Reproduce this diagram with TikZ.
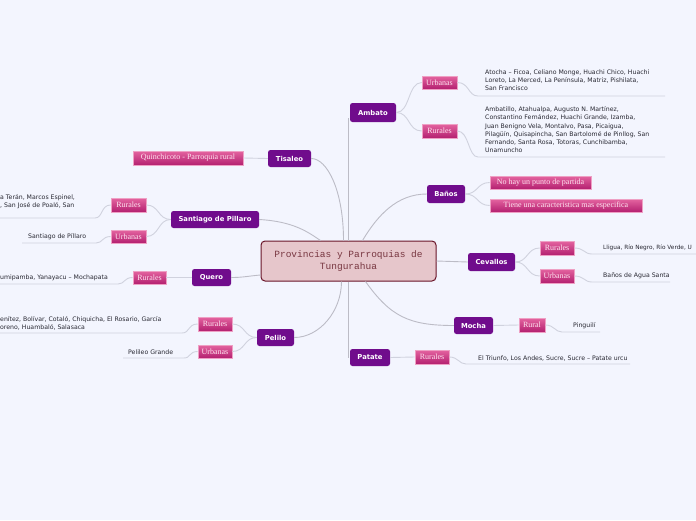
\documentclass[tikz,border=0pt]{standalone}
\usepackage{fontspec}
\setmainfont{DejaVu Sans}
\newfontfamily\monof{Liberation Mono}
\newfontfamily\subf{Liberation Serif}
\definecolor{bgc}{RGB}{243,245,254}
\definecolor{mainc}{RGB}{112,12,140}
\definecolor{centf}{RGB}{230,198,203}
\definecolor{centd}{RGB}{105,20,40}
\definecolor{centt}{RGB}{120,55,65}
\definecolor{subtop}{RGB}{228,100,160}
\definecolor{subbot}{RGB}{180,32,112}
\definecolor{subbd}{RGB}{238,160,196}
\definecolor{subt}{RGB}{255,228,240}
\definecolor{linec}{RGB}{188,188,198}
\definecolor{ulc}{RGB}{208,210,222}
\definecolor{leaft}{RGB}{40,40,50}
\tikzset{
  mainnode/.style={fill=mainc, rounded corners=2.5pt, text=white,
    font=\fontsize{6.8}{8}\selectfont\bfseries, inner sep=0pt},
  centnode/.style={fill=centf, draw=centd, line width=1pt, rounded corners=4pt,
    text=centt, font=\monof\fontsize{9.5}{11.5}\selectfont, align=center, inner sep=0pt,
    minimum width=175pt, minimum height=40pt},
  subnode/.style={top color=subtop, bottom color=subbot, draw=subbd, line width=0.6pt,
    text=subt, font=\subf\fontsize{8}{8}\selectfont, inner sep=0pt},
  leaf/.style={font=\fontsize{6.2}{8.2}\selectfont, text=leaft, align=left, inner sep=0pt},
  conn/.style={draw=linec, line width=0.9pt},
  subconn/.style={draw=ulc, line width=0.9pt}
}
\begin{document}
\begin{tikzpicture}[x=1pt,y=-1pt]
\fill[bgc] (0,0) rectangle (696,520);
\useasboundingbox (0,0) rectangle (696,520);
\clip (0,0) rectangle (696,520);

% center
\node[centnode] (c) at (348.5,261) {Provincias y Parroquias de\\Tungurahua};

% main nodes
\node[mainnode, minimum width=46pt, minimum height=19pt] (amb) at (373,112.5) {Ambato};
\node[mainnode, minimum width=43pt, minimum height=17pt] (tis) at (289.5,158.5) {Tisaleo};
\node[mainnode, minimum width=88pt, minimum height=17pt] (san) at (215,219.5) {Santiago de Pillaro};
\node[mainnode, minimum width=39pt, minimum height=17pt] (que) at (211.5,277.5) {Quero};
\node[mainnode, minimum width=37pt, minimum height=17pt] (pel) at (275.5,337.5) {Pelilo};
\node[mainnode, minimum width=40pt, minimum height=17pt] (pat) at (370,357.5) {Patate};
\node[mainnode, minimum width=39pt, minimum height=17pt] (moc) at (473.5,325.5) {Mocha};
\node[mainnode, minimum width=47pt, minimum height=18pt] (cev) at (491.5,262) {Cevallos};
\node[mainnode, minimum width=38pt, minimum height=18pt] (ban) at (446,194) {Baños};

% main connectors
\draw[conn] (c.north) -- ([yshift=4pt]c.north |- amb.south);
\draw[conn] (c.south) -- (c.south |- pat.west);
\draw[conn] (tis.east) .. controls +(16,0) and +(0,-50) .. ([xshift=-5pt]c.north);
\draw[conn] (san.east) .. controls +(35,2) and +(-12,-8) .. ([xshift=-28pt]c.north);
\draw[conn] (que.east) .. controls +(12,0) and +(-12,1) .. ([yshift=-14pt]c.west);
\draw[conn] (pel.east) .. controls +(25,0) and +(0,30) .. ([xshift=-7pt]c.south);
\draw[conn] ([xshift=14pt]c.north) .. controls +(15,-25) and +(-30,0) .. (ban.west);
\draw[conn] (c.east) -- (cev.west);
\draw[conn] ([xshift=17pt]c.south) .. controls +(25,35) and +(-45,0) .. (moc.west);

% sub nodes
\node[subnode, minimum width=35pt, minimum height=13pt] (amU) at (439.5,82.5) {Urbanas};
\node[subnode, minimum width=35pt, minimum height=14pt] (amR) at (439.5,131) {Rurales};
\node[subnode, minimum width=110pt, minimum height=14pt] (tiQ) at (188,158) {Quinchicoto - Parroquia rural};
\node[subnode, minimum width=35pt, minimum height=14pt] (saR) at (128.5,205) {Rurales};
\node[subnode, minimum width=35pt, minimum height=13pt] (saU) at (128.5,236.5) {Urbanas};
\node[subnode, minimum width=33pt, minimum height=13pt] (quR) at (149.5,277.5) {Rurales};
\node[subnode, minimum width=34pt, minimum height=14pt] (peR) at (215,324) {Rurales};
\node[subnode, minimum width=34pt, minimum height=13pt] (peU) at (215,351.5) {Urbanas};
\node[subnode, minimum width=101pt, minimum height=13pt] (baN) at (540.5,182.5) {No hay un punto de partida};
\node[subnode, minimum width=152pt, minimum height=13pt] (baT) at (566,205.5) {Tiene una caracteristica mas especifica};
\node[subnode, minimum width=34pt, minimum height=14pt] (ceR) at (557,248) {Rurales};
\node[subnode, minimum width=34pt, minimum height=14pt] (ceU) at (557,276) {Urbanas};
\node[subnode, minimum width=26pt, minimum height=14pt] (moR) at (532,325) {Rural};
\node[subnode, minimum width=34pt, minimum height=14pt] (paR) at (432,357) {Rurales};

% main -> sub connectors
\draw[subconn] (amb.east) .. controls +(14,0) and +(-14,0) .. (amU.west);
\draw[subconn] (amb.east) .. controls +(14,0) and +(-14,0) .. (amR.west);
\draw[subconn] (tis.west) -- (tiQ.east);
\draw[subconn] (san.west) .. controls +(-13,0) and +(13,0) .. (saR.east);
\draw[subconn] (san.west) .. controls +(-13,0) and +(13,0) .. (saU.east);
\draw[subconn] (que.west) -- (quR.east);
\draw[subconn] (pel.west) .. controls +(-13,0) and +(13,0) .. (peR.east);
\draw[subconn] (pel.west) .. controls +(-13,0) and +(13,0) .. (peU.east);
\draw[subconn] (ban.east) .. controls +(13,0) and +(-13,0) .. (baN.west);
\draw[subconn] (ban.east) .. controls +(13,0) and +(-13,0) .. (baT.west);
\draw[subconn] (cev.east) .. controls +(13,0) and +(-13,0) .. (ceR.west);
\draw[subconn] (cev.east) .. controls +(13,0) and +(-13,0) .. (ceU.west);
\draw[subconn] (moc.east) -- (moR.west);
\draw[subconn] (pat.east) -- (paR.west);

% leaf underline coordinates
\coordinate (amUa) at (478,96);  \coordinate (amUb) at (665,96);
\coordinate (amRa) at (478,157); \coordinate (amRb) at (665,157);
\coordinate (saRa) at (95,218);  \coordinate (saRb) at (-2,218);
\coordinate (saUa) at (96,243);  \coordinate (saUb) at (22,243);
\coordinate (quRa) at (118,284); \coordinate (quRb) at (-2,284);
\coordinate (peRa) at (182,333); \coordinate (peRb) at (-2,333);
\coordinate (peUa) at (184,358); \coordinate (peUb) at (123,358);
\coordinate (ceRa) at (592,254); \coordinate (ceRb) at (698,254);
\coordinate (ceUa) at (592,282); \coordinate (ceUb) at (670,282);
\coordinate (moRa) at (562,332); \coordinate (moRb) at (600,332);
\coordinate (paRa) at (466,364); \coordinate (paRb) at (630,364);

\draw[subconn] (amU.east) .. controls +(12,0) and +(-10,0) .. (amUa) -- (amUb);
\draw[subconn] (amR.east) .. controls +(12,0) and +(-10,0) .. (amRa) -- (amRb);
\draw[subconn] (saR.west) .. controls +(-10,0) and +(8,0) .. (saRa) -- (saRb);
\draw[subconn] (saU.west) .. controls +(-9,0) and +(7,0) .. (saUa) -- (saUb);
\draw[subconn] (quR.west) .. controls +(-9,0) and +(7,0) .. (quRa) -- (quRb);
\draw[subconn] (peR.west) .. controls +(-10,0) and +(8,0) .. (peRa) -- (peRb);
\draw[subconn] (peU.west) .. controls +(-9,0) and +(7,0) .. (peUa) -- (peUb);
\draw[subconn] (ceR.east) .. controls +(10,0) and +(-8,0) .. (ceRa) -- (ceRb);
\draw[subconn] (ceU.east) .. controls +(10,0) and +(-8,0) .. (ceUa) -- (ceUb);
\draw[subconn] (moR.east) .. controls +(9,0) and +(-7,0) .. (moRa) -- (moRb);
\draw[subconn] (paR.east) .. controls +(9,0) and +(-7,0) .. (paRa) -- (paRb);

% leaf texts
\node[leaf, anchor=north west] (amUt) at (485,69.5) {Atocha – Ficoa, Celiano Monge, Huachi Chico, Huachi\\Loreto, La Merced, La Península, Matriz, Pishilata,\\San Francisco};
\node[leaf, anchor=north west] (amRt) at (485,106.5) {Ambatillo, Atahualpa, Augusto N. Martínez,\\Constantino Fernández, Huachi Grande, Izamba,\\Juan Benigno Vela, Montalvo, Pasa, Picaigua,\\Pilagüín, Quisapincha, San Bartolomé de Pinllog, San\\Fernando, Santa Rosa, Totoras, Cunchibamba,\\Unamuncho};
\node[leaf, anchor=north west] (saRt) at (0,194) {a Terán, Marcos Espinel,\\, San José de Poaló, San};
\node[leaf, anchor=west] (saUt) at (28,237) {Santiago de Píllaro};
\node[leaf, anchor=west] (quRt) at (0,278) {umipamba, Yanayacu – Mochapata};
\node[leaf, anchor=north west] (peRt) at (0,316) {enítez, Bolívar, Cotaló, Chiquicha, El Rosario, García\\oreno, Huambaló, Salasaca};
\node[leaf, anchor=west] (peUt) at (128,352) {Pelileo Grande};
\node[leaf, anchor=west, font=\fontsize{5.8}{8}\selectfont] (ceRt) at (603,248) {Lligua, Río Negro, Río Verde, U};
\node[leaf, anchor=west] (ceUt) at (603,276) {Baños de Agua Santa};
\node[leaf, anchor=west] (moRt) at (573,326) {Pinguilí};
\node[leaf, anchor=west] (paRt) at (478,358) {El Triunfo, Los Andes, Sucre, Sucre – Patate urcu};
\end{tikzpicture}
\end{document}
